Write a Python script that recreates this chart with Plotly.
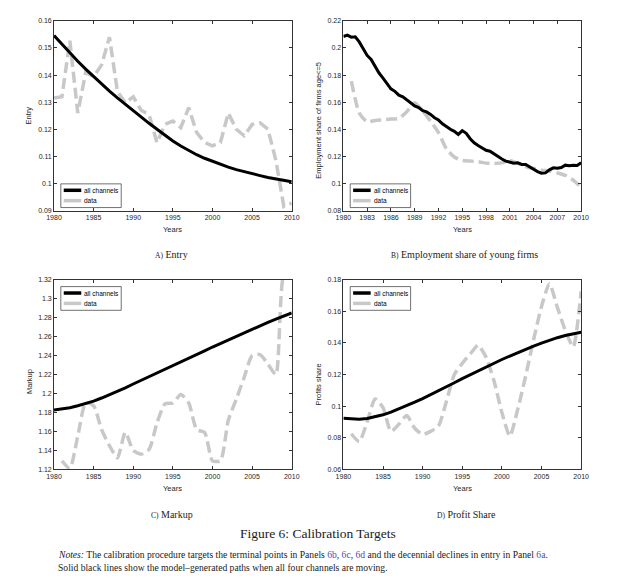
import plotly.graph_objects as go

# ---------------- data ----------------
years = list(range(1980, 2011))
years_data = list(range(1981, 2011))

# Panel A: Entry
entry_model = [0.1546, 0.1513, 0.1481, 0.1451, 0.1422, 0.1394, 0.1367, 0.1341, 0.1316, 0.1292,
               0.1268, 0.1245, 0.1222, 0.1200, 0.1178, 0.1157, 0.1138, 0.1121, 0.1106, 0.1093,
               0.1081, 0.1070, 0.1060, 0.1051, 0.1043, 0.1036, 0.1029, 0.1022, 0.1016, 0.1011,
               0.1006]
entry_data = [0.1315, 0.1320, 0.1527, 0.1260, 0.1410, 0.1395, 0.1437, 0.1540, 0.1340, 0.1297,
              0.1320, 0.1270, 0.1254, 0.1150, 0.1218, 0.1230, 0.1206, 0.1280, 0.1188, 0.1151,
              0.1139, 0.1151, 0.1260, 0.1200, 0.1176, 0.1218, 0.1224, 0.1200, 0.1085, 0.0915,
              0.0927]

# Panel B: Employment share of firms age<=5 (model at half-year steps)
emp_years_model = [1980 + 0.5 * i for i in range(61)]
emp_model = [0.2085, 0.2095, 0.2080, 0.2082, 0.2045, 0.1995, 0.1945, 0.1915, 0.1865, 0.1815,
             0.1778, 0.1735, 0.1698, 0.1680, 0.1652, 0.1640, 0.1618, 0.1590, 0.1572, 0.1560,
             0.1538, 0.1528, 0.1510, 0.1485, 0.1468, 0.1440, 0.1418, 0.1400, 0.1385, 0.1362,
             0.1390, 0.1370, 0.1330, 0.1300, 0.1280, 0.1262, 0.1245, 0.1238, 0.1218, 0.1200,
             0.1180, 0.1165, 0.1160, 0.1150, 0.1152, 0.1140, 0.1140, 0.1122, 0.1105, 0.1088,
             0.1076, 0.1078, 0.1100, 0.1115, 0.1112, 0.1118, 0.1135, 0.1130, 0.1135, 0.1132,
             0.1152]
emp_data = [0.1755, 0.1520, 0.1455, 0.1465, 0.1470, 0.1475, 0.1480, 0.1530, 0.1595, 0.1535,
            0.1460, 0.1375, 0.1255, 0.1195, 0.1170, 0.1165, 0.1160, 0.1150, 0.1148, 0.1152,
            0.1170, 0.1148, 0.1125, 0.1110, 0.1098, 0.1092, 0.1078, 0.1060, 0.1025, 0.0970]

# Panel C: Markup
markup_model = [1.1825, 1.1835, 1.1850, 1.1870, 1.1893, 1.1920, 1.1952, 1.1986, 1.2022, 1.2060,
                1.2100, 1.2138, 1.2176, 1.2214, 1.2252, 1.2290, 1.2330, 1.2370, 1.2410, 1.2450,
                1.2490, 1.2528, 1.2566, 1.2604, 1.2642, 1.2680, 1.2715, 1.2750, 1.2785, 1.2818,
                1.2850]
markup_data = [1.129, 1.121, 1.155, 1.190, 1.187, 1.162, 1.145, 1.132, 1.159, 1.140,
               1.136, 1.141, 1.169, 1.189, 1.190, 1.199, 1.190, 1.162, 1.159, 1.129,
               1.129, 1.172, 1.194, 1.217, 1.240, 1.241, 1.231, 1.220, 1.325, 1.330]

# Panel D: Profit share
profit_model = [0.0923, 0.0918, 0.0917, 0.0922, 0.0932, 0.0945, 0.0962, 0.0982, 0.1003, 0.1025,
                0.1048, 0.1072, 0.1097, 0.1122, 0.1148, 0.1174, 0.1199, 0.1224, 0.1248, 0.1272,
                0.1295, 0.1317, 0.1339, 0.1360, 0.1380, 0.1399, 0.1417, 0.1433, 0.1447, 0.1458,
                0.1467]
profit_data = [0.0825, 0.0775, 0.0900, 0.1045, 0.0990, 0.0840, 0.0885, 0.0940, 0.0860, 0.0820,
               0.0840, 0.0875, 0.1030, 0.1200, 0.1270, 0.1330, 0.1385, 0.1310, 0.1160, 0.0960,
               0.0810, 0.0980, 0.1190, 0.1420, 0.1630, 0.1775, 0.1625, 0.1480, 0.1375, 0.1725]

# Tick definitions
x5_vals = [1980, 1985, 1990, 1995, 2000, 2005, 2010]
x5_text = ["1980", "1985", "1990", "1995", "2000", "2005", "2010"]
x3_vals = [1980, 1983, 1986, 1989, 1992, 1995, 1998, 2001, 2004, 2007, 2010]
x3_text = ["1980", "1983", "1986", "1989", "1992", "1995", "1998", "2001", "2004", "2007", "2010"]
yA_vals = [0.09, 0.10, 0.11, 0.12, 0.13, 0.14, 0.15, 0.16]
yA_text = ["0.09", "0.1", "0.11", "0.12", "0.13", "0.14", "0.15", "0.16"]
yB_vals = [0.08, 0.10, 0.12, 0.14, 0.16, 0.18, 0.20, 0.22]
yB_text = ["0.08", "0.1", "0.12", "0.14", "0.16", "0.18", "0.2", "0.22"]
yC_vals = [1.12, 1.14, 1.16, 1.18, 1.20, 1.22, 1.24, 1.26, 1.28, 1.30, 1.32]
yC_text = ["1.12", "1.14", "1.16", "1.18", "1.2", "1.22", "1.24", "1.26", "1.28", "1.3", "1.32"]
yD_vals = [0.06, 0.08, 0.10, 0.12, 0.14, 0.16, 0.18]
yD_text = ["0.06", "0.08", "0.1", "0.12", "0.14", "0.16", "0.18"]

# ---------------- figure ----------------
# the page body has an 8px margin, so the figure is placed at (8, 8) on screen
OFF = 8
W, H = 624, 572


def px(x):
    return (x - OFF) / W


def py(y):
    return 1 - (y - OFF) / H


BLACK = "#000000"
GRAY = "#c8c8c8"
SANS = "Liberation Sans, Arial, sans-serif"
SERIF = "Liberation Serif, Times New Roman, serif"
TXT = "#262626"

fig = go.Figure()


def add_pair(xm, ym, xd, yd, ax, shape):
    xa = "x" if ax == 1 else f"x{ax}"
    ya = "y" if ax == 1 else f"y{ax}"
    fig.add_trace(go.Scatter(x=xd, y=yd, mode="lines", xaxis=xa, yaxis=ya,
                             line=dict(color=GRAY, width=3.5, dash="11px,5px", shape=shape,
                                       smoothing=0.6),
                             showlegend=False, hoverinfo="skip"))
    fig.add_trace(go.Scatter(x=xm, y=ym, mode="lines", xaxis=xa, yaxis=ya,
                             line=dict(color=BLACK, width=3),
                             showlegend=False, hoverinfo="skip"))


add_pair(years, entry_model, years, entry_data, 1, "linear")
add_pair(emp_years_model, emp_model, years_data, emp_data, 2, "spline")
add_pair(years, markup_model, years_data, markup_data, 3, "spline")
add_pair(years, profit_model, years_data, profit_data, 4, "spline")

# panel pixel boxes on screen: (left, right, top, bottom)
boxes = {
    1: (47, 291, 17, 209),
    2: (344, 588, 17, 209),
    3: (47, 291, 279, 471),
    4: (344, 588, 279, 471),
}
ranges = {
    1: ([0.09, 0.16], x5_vals, x5_text, yA_vals, yA_text),
    2: ([0.08, 0.22], x3_vals, x3_text, yB_vals, yB_text),
    3: ([1.12, 1.32], x5_vals, x5_text, yC_vals, yC_text),
    4: ([0.06, 0.18], x5_vals, x5_text, yD_vals, yD_text),
}

axis_common = dict(showline=True, linecolor="#333333", linewidth=0.7, mirror="ticks",
                   ticks="inside", ticklen=3, tickwidth=0.7, tickcolor="#333333",
                   showgrid=False, zeroline=False,
                   tickfont=dict(family=SANS, size=7, color=TXT))

layout_axes = {}
for k, (l, r, t, b) in boxes.items():
    yr, xv, xt, yv, yt = ranges[k]
    eps = (yr[1] - yr[0]) * 1e-6
    xname = "xaxis" if k == 1 else f"xaxis{k}"
    yname = "yaxis" if k == 1 else f"yaxis{k}"
    anchor_x = "y" if k == 1 else f"y{k}"
    anchor_y = "x" if k == 1 else f"x{k}"
    layout_axes[xname] = dict(domain=[px(l), px(r)], range=[1980 - 0.0001, 2010 + 0.0001],
                              tickvals=xv, ticktext=xt, anchor=anchor_x, **axis_common)
    layout_axes[yname] = dict(domain=[py(b), py(t)], range=[yr[0] - eps, yr[1] + eps],
                              tickvals=yv, ticktext=yt, anchor=anchor_y, **axis_common)

fig.update_layout(**layout_axes)

annotations = []
shapes = []


def text(x, y, s, size, family=SANS, color=TXT, angle=0, xanchor="center"):
    annotations.append(dict(x=px(x), y=py(y), xref="paper", yref="paper", text=s,
                            showarrow=False, xanchor=xanchor, yanchor="middle",
                            textangle=angle, font=dict(family=family, size=size, color=color)))


# axis titles
ytitles = {1: ("Entry", 21, 113), 2: ("Employment share of firms age<=5", 319, 118),
           3: ("Markup", 22, 382), 4: ("Profits share", 318, 385)}
for k, (l, r, t, b) in boxes.items():
    text((l + r) / 2, b + 19, "Years", 7.5)
    s, xx, yy = ytitles[k]
    text(xx, yy, s, 7.5, angle=-90)


# legends
def legend(l, top):
    shapes.append(dict(type="rect", xref="paper", yref="paper",
                       x0=px(l + 7), x1=px(l + 69), y0=py(top + 24), y1=py(top),
                       line=dict(color="#333333", width=0.7), fillcolor="white"))
    shapes.append(dict(type="line", xref="paper", yref="paper",
                       x0=px(l + 10), x1=px(l + 28), y0=py(top + 6.5), y1=py(top + 6.5),
                       line=dict(color=BLACK, width=3.5)))
    shapes.append(dict(type="line", xref="paper", yref="paper",
                       x0=px(l + 10), x1=px(l + 28), y0=py(top + 17), y1=py(top + 17),
                       line=dict(color=GRAY, width=3.5)))
    text(l + 29, top + 6.5, "all channels", 6.5, xanchor="left", color="#000000")
    text(l + 29, top + 17, "data", 6.5, xanchor="left", color="#000000")


legend(47, 182)
legend(344, 182)
legend(47, 286)
legend(344, 286)


# captions
def cap(x, y, letter, rest):
    text(x, y, f"<span style='font-size:7.5px'>{letter})</span> {rest}", 10,
         family=SERIF, color="#1a1a1a")


cap(168, 254, "A", "Entry")
cap(468, 254, "B", "Employment share of young firms")
cap(168, 517, "C", "Markup")
cap(470, 517, "D", "Profit Share")
text(318, 536, "Figure 6: Calibration Targets", 13.5, family=SERIF, color="#1a1a1a")

LINK = "#4b4bb4"
note1 = ("<i>Notes:</i> The calibration procedure targets the terminal points in Panels "
         f"<span style='color:{LINK}'>6b</span>, <span style='color:{LINK}'>6c</span>, "
         f"<span style='color:{LINK}'>6d</span> and the decennial declines in entry in Panel "
         f"<span style='color:{LINK}'>6a</span>.")
note2 = "Solid black lines show the model–generated paths when all four channels are moving."
text(49, 557, note1, 9.6, family=SERIF, color="#1a1a1a", xanchor="left")
text(49, 570, note2, 9.6, family=SERIF, color="#1a1a1a", xanchor="left")

fig.update_layout(width=W, height=H, autosize=False,
                  margin=dict(l=0, r=0, t=0, b=0),
                  paper_bgcolor="white", plot_bgcolor="white",
                  showlegend=False, annotations=annotations, shapes=shapes)

fig.write_html("out.html")
